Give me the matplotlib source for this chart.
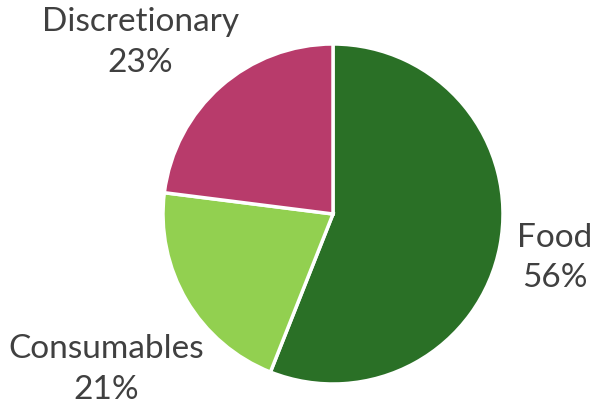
import numpy as np
import matplotlib.pyplot as plt

# Share of spending by category
categories = ["Food", "Consumables", "Discretionary"]
shares = [56, 21, 23]
colors = ["#2a7026", "#92d050", "#b83b6b"]

# label positions as (angle in degrees, distance in radii) from the pie centre
label_spots = [(-11.2, 1.33), (-145.6, 1.62), (138.3, 1.52)]

W, H = 598, 409
fig = plt.figure(figsize=(W / 100, H / 100), dpi=100)
ax = fig.add_axes([0, 0, 1, 1])

cx, cy, r = 333, H - 214, 170
wedges, texts = ax.pie(
    shares,
    labels=[f"{c}\n{v}%" for c, v in zip(categories, shares)],
    colors=colors,
    startangle=90,
    counterclock=False,
    center=(cx, cy),
    radius=r,
    wedgeprops=dict(edgecolor="white", linewidth=2.5),
    textprops=dict(fontsize=24, color="#404040", family="Lato",
                   ha="center", va="center", linespacing=1.45),
)

for t, (ang, dist) in zip(texts, label_spots):
    a = np.radians(ang)
    t.set_position((cx + dist * r * np.cos(a), cy + dist * r * np.sin(a)))
    t.set_ha("center")
    t.set_va("center")

ax.set_xlim(0, W)
ax.set_ylim(0, H)
ax.set_aspect("equal")
ax.axis("off")

fig.savefig("out.png", dpi=100)
